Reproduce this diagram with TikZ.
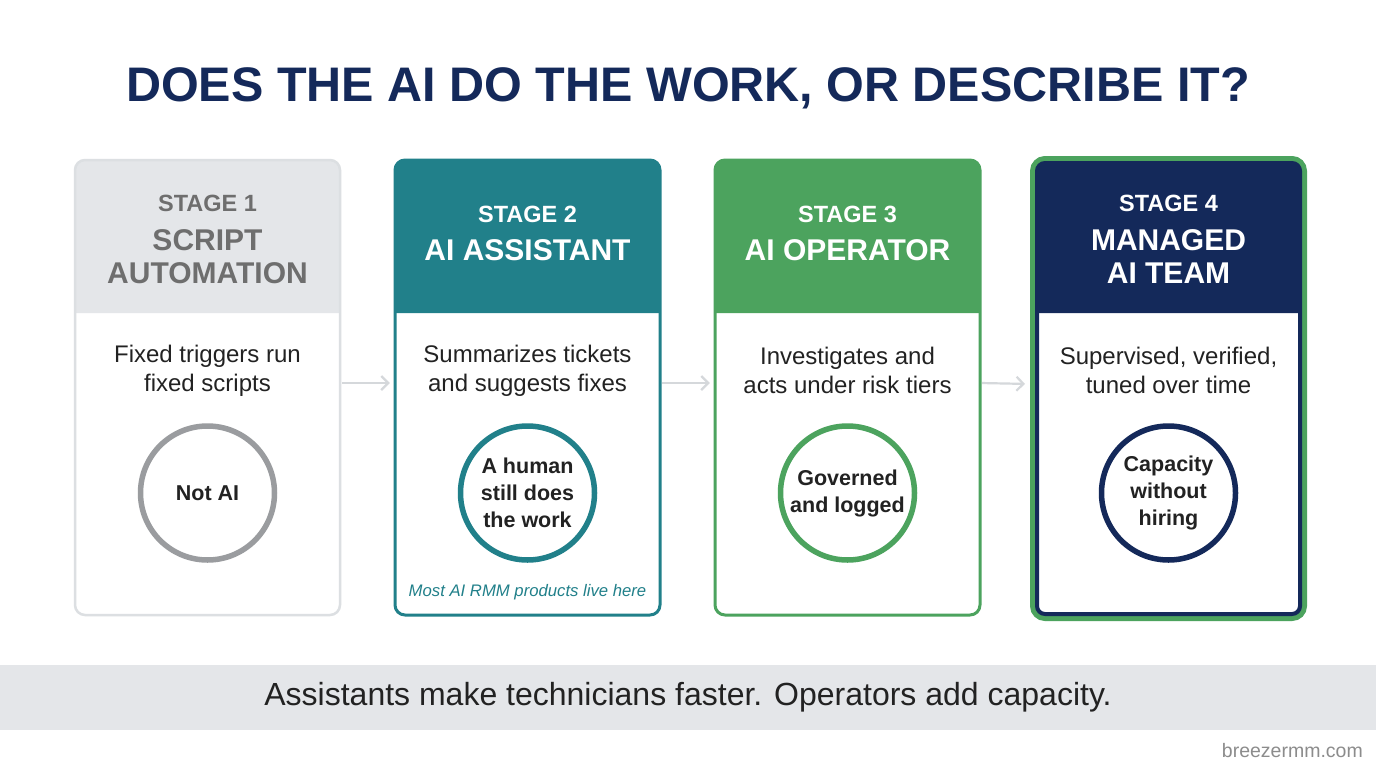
\documentclass[tikz,border=0pt]{standalone}
\usepackage{fontspec}
\setmainfont{Liberation Sans}
\usetikzlibrary{arrows.meta}
\definecolor{navy}{HTML}{14295A}
\definecolor{teal2}{HTML}{21808A}
\definecolor{green2}{HTML}{4CA35E}
\definecolor{hdrgray}{HTML}{E4E6E9}
\definecolor{bordgray}{HTML}{DCDFE2}
\definecolor{titlegray}{HTML}{6E6E6E}
\definecolor{circgray}{HTML}{9A9C9F}
\definecolor{arrgray}{HTML}{D5D8DB}
\definecolor{ink}{HTML}{222222}
\newcommand{\fs}[1]{\fontsize{#1}{#1}\selectfont}
\tikzset{
  cardbox/.style={draw, rounded corners=10pt, minimum width=265pt, minimum height=455pt, inner sep=0pt},
  stagelbl/.style={font=\bfseries\fs{23.5}, inner sep=0pt},
  stagename/.style={font=\bfseries\fs{30}, align=center, inner sep=0pt, execute at begin node={\setlength{\baselineskip}{33pt}}},
  bodytxt/.style={font=\fs{24}, text=ink, align=center, inner sep=0pt, execute at begin node={\setlength{\baselineskip}{29pt}}},
  ring/.style={circle, draw, line width=5.5pt, minimum size=134pt, inner sep=0pt, fill=white},
  ringtxt/.style={font=\bfseries\fs{21.5}, text=ink, align=center, inner sep=0pt, execute at begin node={\setlength{\baselineskip}{27pt}}},
  flowarr/.style={draw=arrgray, line width=2.2pt, -{Straight Barb[length=7pt,width=14pt,line width=2.2pt]}, shorten <=2pt, shorten >=5pt}
}
\begin{document}
\begin{tikzpicture}[x=1pt,y=-1pt]
\useasboundingbox (0,0) rectangle (1376,768);
\fill[white] (0,0) rectangle (1376,768);

% title
\node[font=\bfseries\fs{48.5}, text=navy, inner sep=0pt] (title) at (688,88) {DOES THE AI DO THE WORK, OR DESCRIBE IT?};

% ---- card 1
\node[cardbox, fill=white, draw=none] (c1) at (207.5,387.5) {};
\fill[hdrgray] (75,313) [rounded corners=10pt] -- (75,160) -- (340,160) [sharp corners] -- (340,313) -- cycle;
\node[cardbox, draw=bordgray, line width=2.5pt] at (c1) {};
\node[stagelbl, text=titlegray] (s1) at (207.5,203) {STAGE 1};
\node[stagename, text=titlegray] (n1) at (207.5,256.5) {SCRIPT\\AUTOMATION};
\node[bodytxt] (b1) at (207.5,371) {Fixed triggers run\\fixed scripts};
\node[ring, draw=circgray] (r1) at (207.5,493) {};
\node[ringtxt] at (r1) {Not AI};

% ---- card 2
\node[cardbox, fill=white, draw=none] (c2) at (527.5,387.5) {};
\fill[teal2] (395,313) [rounded corners=10pt] -- (395,160) -- (660,160) [sharp corners] -- (660,313) -- cycle;
\node[cardbox, draw=teal2, line width=3pt] at (c2) {};
\node[stagelbl, text=white] (s2) at (527.5,214) {STAGE 2};
\node[stagename, text=white] (n2) at (527.5,250) {AI ASSISTANT};
\node[bodytxt] (b2) at (527.5,371) {Summarizes tickets\\and suggests fixes};
\node[ring, draw=teal2] (r2) at (527.5,493) {};
\node[ringtxt] at (r2) {A human\\still does\\the work};
\node[font=\itshape\fs{16.7}, text=teal2, inner sep=0pt] (note2) at (527.5,592) {Most AI RMM products live here};

% ---- card 3
\node[cardbox, fill=white, draw=none] (c3) at (847.5,387.5) {};
\fill[green2] (715,313) [rounded corners=10pt] -- (715,160) -- (980,160) [sharp corners] -- (980,313) -- cycle;
\node[cardbox, draw=green2, line width=3pt] at (c3) {};
\node[stagelbl, text=white] (s3) at (847.5,214) {STAGE 3};
\node[stagename, text=white] (n3) at (847.5,250) {AI OPERATOR};
\node[bodytxt] (b3) at (847.5,370) {Investigates and\\acts under risk tiers};
\node[ring, draw=green2] (r3) at (847.5,493) {};
\node[ringtxt] at (r3) {Governed\\and logged};

% ---- card 4
\node[cardbox, draw=green2, line width=6pt, minimum width=271pt, minimum height=459pt, rounded corners=12pt, fill=white] (c4o) at (1168.5,388.5) {};
\fill[navy] (1037,313) [rounded corners=8pt] -- (1037,163) -- (1300,163) [sharp corners] -- (1300,313) -- cycle;
\node[cardbox, draw=navy, line width=4pt, minimum width=263pt, minimum height=451pt, rounded corners=8pt] (c4) at (1168.5,388.5) {};
\node[stagelbl, text=white] (s4) at (1168.5,203) {STAGE 4};
\node[stagename, text=white] (n4) at (1168.5,256.5) {MANAGED\\AI TEAM};
\node[bodytxt] (b4) at (1168.5,370) {Supervised, verified,\\tuned over time};
\node[ring, draw=navy] (r4) at (1168.5,493) {};
\node[ringtxt] at (r4) {Capacity\\without\\hiring};

% arrows
\draw[flowarr] ([yshift=4.5pt]c1.east) -- ([yshift=4.5pt]c2.west);
\draw[flowarr] ([yshift=4.5pt]c2.east) -- ([yshift=4.5pt]c3.west);
\draw[flowarr] ([yshift=4.5pt]c3.east) -- ([yshift=4.5pt]c4o.west);

% bottom band
\fill[hdrgray] (0,665) rectangle (1376,730);
\node[font=\fs{32}, text=ink, inner sep=0pt] (concl) at (688,697) {Assistants make technicians faster. Operators add capacity.};
\node[font=\fs{19.5}, text=black!45, inner sep=0pt, anchor=east] (brand) at (1363,751) {breezermm.com};
\end{tikzpicture}
\end{document}
